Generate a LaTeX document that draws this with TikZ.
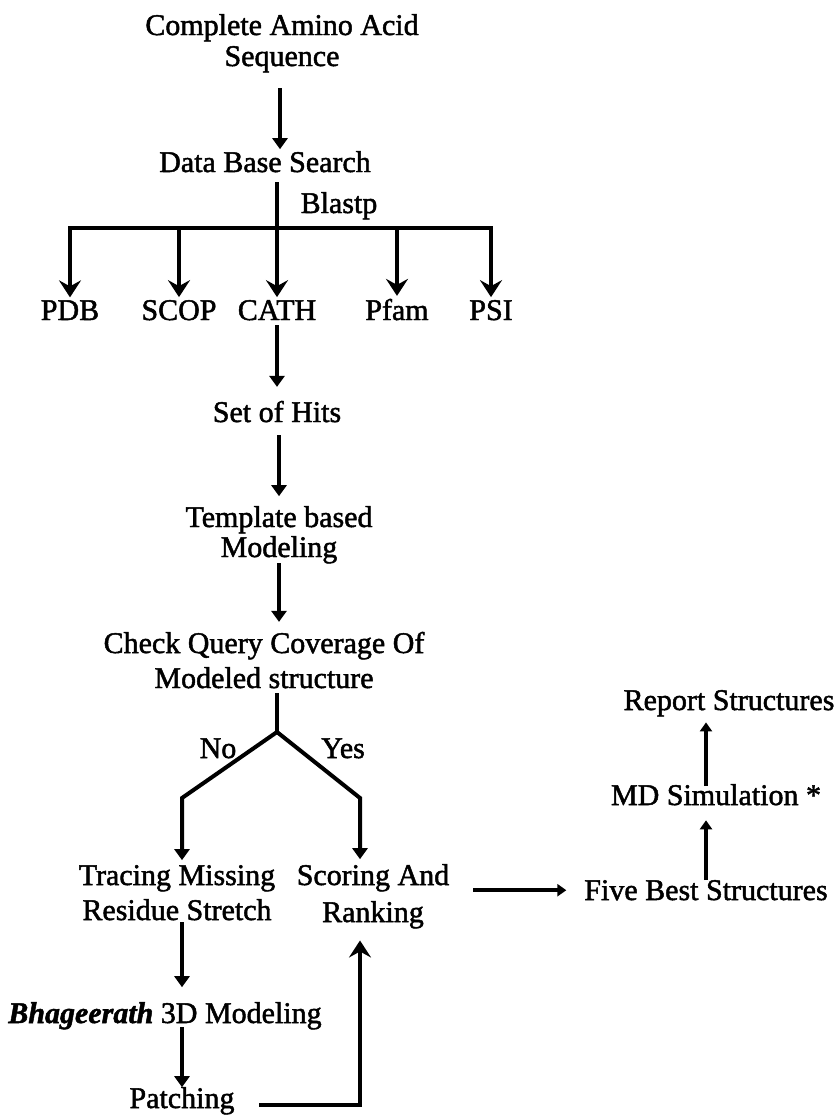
\documentclass[tikz,border=0pt]{standalone}
\usepackage{fontspec}
\setmainfont{Liberation Serif}[FakeBold=1.6]
\usetikzlibrary{arrows.meta}
\begin{document}
\begin{tikzpicture}[x=1pt,y=-1pt,
  txt/.style={inner sep=0pt,outer sep=0pt,anchor=base,align=center,font=\fontsize{30}{31}\selectfont},
  ln/.style={line width=4pt},
  arr/.style={line width=4pt,-{Triangle[width=15pt,length=11pt]}},
  arrbig/.style={line width=4pt,-{Stealth[width=22pt,length=17pt,inset=6pt]}},
  arrsm/.style={line width=3.5pt,-{Triangle[width=12pt,length=9pt]}}]
\useasboundingbox (0,0) rectangle (837,1119);
% nodes (multi-line nodes: base = baseline of last line)
\node[txt] (seq) at (282,66) {Complete Amino Acid\\Sequence};
\node[txt] (dbs) at (265,172) {Data Base Search};
\node[txt] (blastp) at (339,213) {Blastp};
\node[txt] (pdb) at (70,320) {PDB};
\node[txt] (scop) at (179,320) {SCOP};
\node[txt] (cath) at (277,320) {CATH};
\node[txt] (pfam) at (397,320) {Pfam};
\node[txt] (psi) at (491,320) {PSI};
\node[txt] (hits) at (277,422) {Set of Hits};
\node[txt,font=\fontsize{30}{30}\selectfont] (tmpl) at (279,557) {Template based\\Modeling};
\node[txt,font=\fontsize{30}{35}\selectfont] (check) at (264,688) {Check Query Coverage Of\\Modeled structure};
\node[txt] (no) at (218,758) {No};
\node[txt] (yes) at (343,758) {Yes};
\node[txt,font=\fontsize{30}{35}\selectfont] (trace) at (177,920) {Tracing Missing\\Residue Stretch};
\node[txt,font=\fontsize{30}{37}\selectfont] (score) at (373,922) {Scoring And\\Ranking};
\node[txt] (bhag) at (165,1023) {\textbf{\textit{Bhageerath}} 3D Modeling};
\node[txt] (patch) at (182,1108) {Patching};
\node[txt] (five) at (706,900) {Five Best Structures};
\node[txt] (md) at (716,805) {MD Simulation *};
\node[txt] (report) at (729,710) {Report Structures};
% junctions
\coordinate (bus) at (277,228);
\coordinate (fork) at (277,732);
\coordinate (lk) at (182,798);
\coordinate (rk) at (360,798);
% connectors
\draw[arr,shorten <=16pt,shorten >=2pt] ([xshift=-2pt]seq.south) -- ([xshift=-2pt]seq.south |- dbs.north);
\draw[ln,shorten <=10pt] (bus |- dbs.south) -- (bus);
\draw[line width=4pt,{Stealth[width=22pt,length=17pt,inset=6pt]}-{Stealth[width=22pt,length=17pt,inset=6pt]},shorten <=3pt,shorten >=3pt]
  (pdb.north) -- (pdb.north |- bus) -- (psi.north |- bus) -- (psi.north);
\draw[arrbig,shorten >=3pt] (scop.north |- bus) -- (scop.north);
\draw[arrbig,shorten >=3pt] (bus) -- (cath.north);
\draw[arrbig,shorten >=3pt] (pfam.north |- bus) -- (pfam.north);
\draw[arr,shorten <=5pt,shorten >=14pt] (cath.south) -- (cath.south |- hits.north);
\draw[arr,shorten <=13pt,shorten >=10pt] (tmpl.north |- hits.south) -- (tmpl.north);
\draw[arr,shorten >=10pt] (tmpl.south) -- (tmpl.south |- check.north);
\draw[ln,shorten <=5pt] (fork |- check.south) -- (fork);
\draw[arr,shorten >=5pt] (fork) -- (lk) -- (lk |- trace.north);
\draw[arr,shorten >=5pt] (fork) -- (rk) -- (rk |- score.north);
\draw[arr,shorten <=2pt,shorten >=15pt] (lk |- trace.south) -- (lk |- bhag.north);
\draw[arr,shorten <=-2pt] (patch.north |- bhag.south) -- (patch.north);
\draw[arrbig,shorten <=25pt,shorten >=12pt] ([yshift=3pt]patch.base east) -- ([yshift=3pt]rk |- patch.base east) -- (rk |- score.south);
\draw[arrsm,shorten <=24pt,shorten >=18pt] (score.east |- five.west) -- (five.west);
\draw[arrsm,shorten >=15pt] (five.north) -- (five.north |- md.south);
\draw[arrsm,shorten <=-2pt,shorten >=6pt] (five.north |- md.north) -- (five.north |- report.south);
\end{tikzpicture}
\end{document}
